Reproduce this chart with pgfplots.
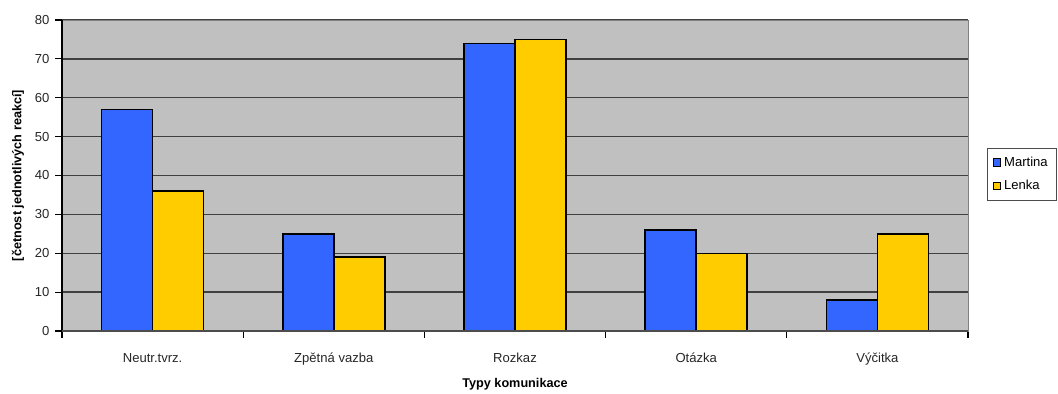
\documentclass[border=0pt]{standalone}
\usepackage{pgfplots}
\pgfplotsset{compat=1.18}
\usepackage{fontspec}
\setmainfont{Liberation Sans}
\definecolor{cblue}{HTML}{3366FF}
\definecolor{cyellow}{HTML}{FFCC00}
\definecolor{cbg}{HTML}{C0C0C0}
\begin{document}
\begin{tikzpicture}
\begin{axis}[
  scale only axis,
  width=679.5pt, height=233.25pt,
  xmin=-0.5, xmax=4.5, ymin=0, ymax=80,
  ybar=0pt, bar width=38.25pt,
  xtick={0,1,2,3,4},
  xticklabels={Neutr.tvrz., Zpětná vazba, Rozkaz, Otázka, Výčitka},
  major x tick style={draw=none},
  minor xtick={-0.5,0.5,1.5,2.5,3.5,4.5},
  minor x tick style={black, line width=0.8pt},
  minor tick length=5pt,
  ytick={0,10,...,80},
  ytick style={black, line width=0.8pt},
  major tick length=5pt,
  tick align=outside,
  xtick pos=bottom, ytick pos=left,
  ymajorgrids,
  grid style={black!75, line width=1pt},
  axis background/.style={fill=cbg},
  axis line style={draw=gray},
  tick label style={font=\fontsize{9.8}{11}\selectfont, text=black!85},
  xticklabel style={yshift=-8pt},
  yticklabel style={xshift=-1pt},
  /pgf/number format/assume math mode=true,
  xlabel={Typy komunikace},
  ylabel={[četnost jednotlivých reakcí]},
  xlabel style={font=\bfseries\fontsize{9.5}{11}\selectfont, at={(axis description cs:0.5,-0.172)}, anchor=center},
  ylabel style={font=\bfseries\fontsize{9.5}{11}\selectfont, at={(axis description cs:-0.0486,0.5)}, anchor=center},
  legend style={at={(axis description cs:1,0.5)}, anchor=west, xshift=14pt, yshift=1pt,
    draw=black!70, font=\fontsize{9.8}{11}\selectfont, inner xsep=4.5pt, inner ysep=4.5pt,
    row sep=5pt, cells={anchor=west}},
  legend image code/.code={\draw[#1, line width=0.8pt] (0pt,-2.8pt) rectangle (5.6pt,2.8pt);},
  clip=false,
]
\addplot[fill=cblue, draw=black, line width=1.1pt] coordinates {(0,57) (1,25) (2,74) (3,26) (4,8)};
\addplot[fill=cyellow, draw=black, line width=1.1pt] coordinates {(0,36) (1,19) (2,75) (3,20) (4,25)};
\legend{Martina, Lenka}
\draw[black, line width=1pt] (rel axis cs:0,0) -- (rel axis cs:0,1);
\draw[black!70, line width=1pt] (rel axis cs:0,0) -- (rel axis cs:1,0);
\end{axis}
\pgfresetboundingbox
\path ([xshift=-46.5pt,yshift=-47.25pt]current axis.south west) rectangle ([xshift=67.5pt,yshift=15pt]current axis.north east);
\end{tikzpicture}
\end{document}
